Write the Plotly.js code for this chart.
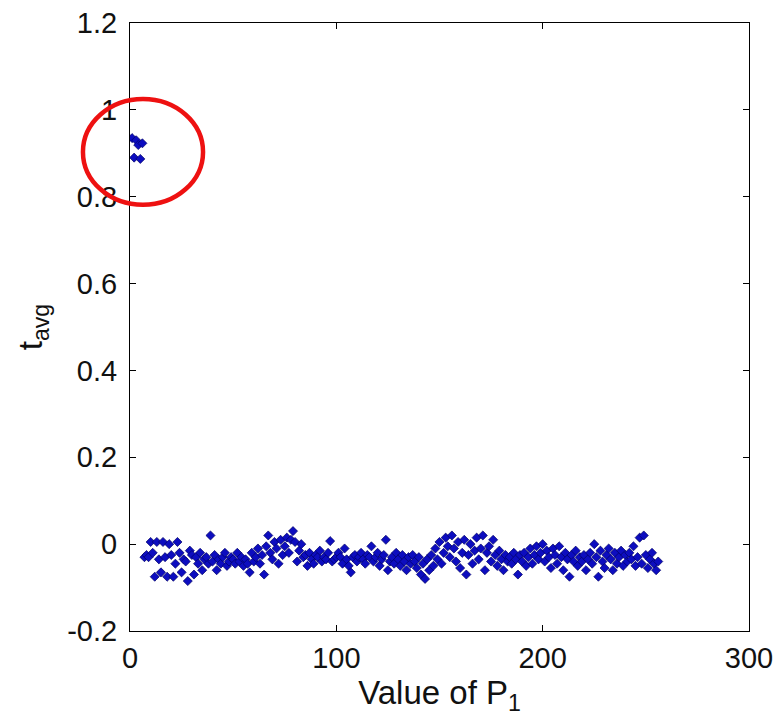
<!DOCTYPE html>
<html>
<head>
<meta charset="utf-8">
<script src="https://cdn.plot.ly/plotly-3.0.1.min.js"></script>
<style>html,body{margin:0;padding:0;background:#fff;}#chart{width:778px;height:720px;}</style>
</head>
<body>
<div id="chart"></div>
<script>
// P1 values (x) and averaged t (y)
const highX = [1, 2, 3, 4, 5, 6];
const highY = [0.935, 0.89, 0.93, 0.919, 0.887, 0.923];

const lowY = [
  -0.03, -0.025, -0.03, 0.005, -0.02, -0.075, 0.005, -0.035, -0.065, 0.005,
  -0.03, -0.075, 0.0, -0.025, -0.075, -0.045, 0.005, -0.02, -0.065, -0.035,
  -0.04, -0.085, -0.015, -0.025, -0.07, -0.03, -0.045, -0.02, -0.06, -0.035,
  -0.03, -0.045, 0.02, -0.04, -0.025, -0.06, -0.035, -0.045, -0.03, -0.02,
  -0.05, -0.04, -0.03, -0.035, -0.045, -0.02, -0.04, -0.03, -0.05, -0.035,
  -0.045, -0.065, -0.02, -0.04, -0.03, -0.01, -0.045, -0.025, -0.07, -0.005,
  0.02, -0.02, -0.035, 0.005, -0.01, -0.045, 0.01, -0.025, -0.005, 0.015,
  -0.02, 0.01, 0.03, 0.005, -0.04, -0.015, 0.0, -0.03, -0.025, -0.05,
  -0.02, -0.035, -0.045, -0.025, -0.03, -0.015, -0.04, -0.03, -0.035, -0.02,
  0.007, -0.04, -0.035, -0.03, -0.02, -0.03, -0.045, -0.01, -0.035, -0.05,
  -0.065, -0.03, -0.025, -0.04, -0.03, -0.02, -0.035, -0.045, -0.025, -0.03,
  -0.005, -0.04, -0.03, -0.02, -0.05, -0.035, -0.025, 0.01, -0.06, -0.04,
  -0.03, -0.045, -0.02, -0.035, -0.05, -0.025, -0.04, -0.06, -0.03, -0.045,
  -0.025, -0.04, -0.055, -0.03, -0.07, -0.045, -0.08, -0.035, -0.06, -0.025,
  -0.05, -0.01, -0.035, 0.005, -0.045, -0.02, 0.015, -0.005, -0.03, 0.02,
  -0.01, -0.04, 0.005, -0.055, -0.02, 0.01, -0.07, -0.025, 0.0, -0.045,
  -0.015, 0.015, -0.035, -0.01, 0.02, -0.06, -0.02, -0.005, -0.04, 0.01,
  -0.025, -0.05, -0.015, -0.035, -0.06, -0.025, -0.04, -0.03, -0.045, -0.02,
  -0.035, -0.07, -0.025, -0.04, -0.02, -0.05, -0.03, -0.01, -0.045, -0.025,
  -0.005, -0.035, -0.02, 0.0, -0.04, -0.015, -0.03, -0.055, -0.01, -0.025,
  -0.045, -0.005, -0.03, -0.06, -0.02, -0.035, -0.075, -0.025, -0.04, -0.015,
  -0.05, -0.03, -0.04, -0.025, -0.06, -0.035, -0.02, -0.045, 0.0, -0.03,
  -0.075, -0.015, -0.04, -0.055, -0.025, -0.01, -0.035, -0.06, -0.02, -0.045,
  -0.03, -0.015, -0.05, -0.025, -0.04, -0.02, -0.035, -0.005, -0.05, -0.03,
  0.015, -0.045, 0.02, -0.025, -0.055, -0.035, -0.02, -0.045, -0.06, -0.04
];
const lowXStart = 7;
const lowX = lowY.map((_, i) => lowXStart + i);

const xTickVals = [0, 100, 200, 300];
const xTickText = ['0', '100', '200', '300'];
const yTickVals = [-0.2, 0, 0.2, 0.4, 0.6, 0.8, 1, 1.2];
const yTickText = ['-0.2', '0', '0.2', '0.4', '0.6', '0.8', '1', '1.2'];

const marker = {
  symbol: 'diamond', size: 7, color: '#0d0dbf',
  line: {color: '#000066', width: 0.7}
};

const traces = [
  {x: highX.concat(lowX), y: highY.concat(lowY), type: 'scatter', mode: 'markers',
   marker: marker, showlegend: false, cliponaxis: true, hoverinfo: 'x+y'}
];

const axisCommon = {
  showgrid: false, zeroline: false, showline: true, linecolor: '#000', linewidth: 1,
  mirror: 'ticks', ticks: 'inside', ticklen: 6, tickwidth: 1, tickcolor: '#000',
  tickfont: {family: 'Liberation Sans, Arial, sans-serif', size: 29, color: '#111'}
};

const layout = {
  width: 778, height: 720,
  margin: {l: 130, r: 29, t: 23, b: 89, pad: 0},
  paper_bgcolor: '#fff', plot_bgcolor: '#fff',
  showlegend: false,
  xaxis: Object.assign({}, axisCommon, {
    range: [0, 300], tickmode: 'array', tickvals: xTickVals, ticktext: xTickText,
    ticklabelstandoff: 1,
    title: {text: 'Value of P<sub>1</sub>', standoff: 2,
            font: {family: 'Liberation Sans, Arial, sans-serif', size: 33, color: '#111'}}
  }),
  yaxis: Object.assign({}, axisCommon, {
    range: [-0.2, 1.2], tickmode: 'array', tickvals: yTickVals, ticktext: yTickText,
    ticklabelstandoff: 6,
    title: {text: 't<sub>avg</sub>', standoff: 14,
            font: {family: 'Liberation Sans, Arial, sans-serif', size: 33, color: '#111'}}
  }),
  shapes: [
    {type: 'circle', xref: 'paper', yref: 'paper',
     x0: -0.076, x1: 0.118, y0: 0.701, y1: 0.875,
     line: {color: '#ee1111', width: 4.5}, fillcolor: 'rgba(0,0,0,0)', layer: 'above'}
  ]
};

Plotly.newPlot('chart', traces, layout, {displayModeBar: false, staticPlot: true});
</script>
</body>
</html>
